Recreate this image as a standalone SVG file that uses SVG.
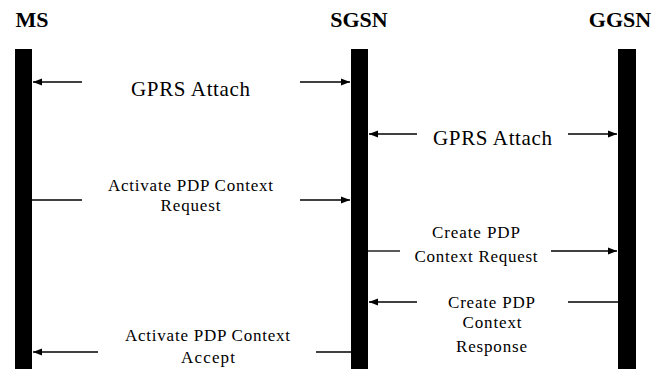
<svg xmlns="http://www.w3.org/2000/svg" width="661" height="371" viewBox="0 0 661 371">
<style>
.bar{fill:#000}
text{font-family:"Liberation Serif","DejaVu Serif",serif;fill:#000}
.title{font-weight:bold;font-size:22px}
.big{font-size:21px}
.lbl{font-size:17px}
.ln{stroke:#000;stroke-width:1.3;fill:none}
.arr{marker-end:url(#ah)}
</style>
<defs>
<marker id="ah" markerUnits="userSpaceOnUse" markerWidth="10" markerHeight="8" refX="9" refY="4" orient="auto">
<path d="M0,0.5 L9,4 L0,7.5 z" fill="#000"/>
</marker>
</defs>
<rect width="661" height="371" fill="#fff"/>
<g id="node-ms">
<text class="title" x="32" y="27" text-anchor="middle">MS</text>
<rect class="bar" x="15" y="49" width="17" height="320"/>
</g>
<g id="node-sgsn">
<text class="title" x="359" y="27" text-anchor="middle">SGSN</text>
<rect class="bar" x="351" y="49" width="17" height="320"/>
</g>
<g id="node-ggsn">
<text class="title" x="620" y="27" text-anchor="middle">GGSN</text>
<rect class="bar" x="618" y="49" width="18" height="320"/>
</g>
<g id="connectors">
<line class="ln arr" x1="82" y1="82" x2="33" y2="82"/>
<line class="ln arr" x1="300" y1="82" x2="350" y2="82"/>
<text class="big" font-family="Liberation Serif, serif" x="190.5" y="96" text-anchor="middle" textLength="119" lengthAdjust="spacing">GPRS Attach</text>

<line class="ln arr" x1="417" y1="134" x2="369" y2="134"/>
<line class="ln arr" x1="568" y1="134" x2="617" y2="134"/>
<text class="big" x="492.5" y="145" text-anchor="middle" textLength="119" lengthAdjust="spacing">GPRS Attach</text>

<line class="ln" x1="32" y1="200" x2="82" y2="200"/>
<line class="ln arr" x1="300" y1="200" x2="350" y2="200"/>
<text class="lbl" x="190.5" y="190.5" text-anchor="middle" textLength="165" lengthAdjust="spacing">Activate PDP Context</text>
<text class="lbl" x="190.5" y="210.5" text-anchor="middle" textLength="60" lengthAdjust="spacing">Request</text>

<line class="ln" x1="368" y1="251" x2="400" y2="251"/>
<line class="ln arr" x1="551" y1="251" x2="617" y2="251"/>
<text class="lbl" x="476" y="238" text-anchor="middle" textLength="88" lengthAdjust="spacing">Create PDP</text>
<text class="lbl" x="476" y="261.5" text-anchor="middle" textLength="123" lengthAdjust="spacing">Context Request</text>

<line class="ln arr" x1="417" y1="302" x2="369" y2="302"/>
<line class="ln" x1="568" y1="302" x2="618" y2="302"/>
<text class="lbl" x="491.5" y="307.5" text-anchor="middle" textLength="87" lengthAdjust="spacing">Create PDP</text>
<text class="lbl" x="492" y="328" text-anchor="middle" textLength="59" lengthAdjust="spacing">Context</text>
<text class="lbl" x="491.5" y="351.5" text-anchor="middle" textLength="71" lengthAdjust="spacing">Response</text>

<line class="ln arr" x1="98" y1="352" x2="33" y2="352"/>
<line class="ln" x1="316" y1="352" x2="351" y2="352"/>
<text class="lbl" x="207.5" y="340.5" text-anchor="middle" textLength="165" lengthAdjust="spacing">Activate PDP Context</text>
<text class="lbl" x="208" y="363" text-anchor="middle" textLength="54" lengthAdjust="spacing">Accept</text>
</g>
</svg>
